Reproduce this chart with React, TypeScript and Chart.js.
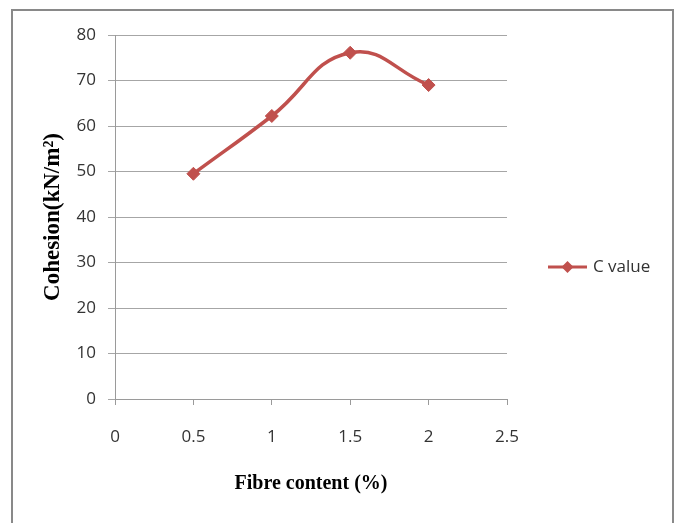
import React, { useEffect, useRef } from "react";
import { Chart, registerables } from "chart.js";

Chart.register(...registerables);

// ---- data ----
const fibreContent = [0.5, 1, 1.5, 2];
const cValues = [49.5, 62.2, 76.1, 69.0];
const xTickValues = [0, 0.5, 1, 1.5, 2, 2.5];
const yTickValues = [0, 10, 20, 30, 40, 50, 60, 70, 80];
const seriesName = "C value";
const xTitle = "Fibre content (%)";
const yTitle = "Cohesion(kN/m²)";

const LINE_COLOR = "#C0504D";
const TICK_FONT = { family: '"Open Sans", "Liberation Sans", sans-serif', size: 17 };

const overlayPlugin = {
  id: "overlay",
  afterDraw(chart: any) {
    const ctx = chart.ctx as CanvasRenderingContext2D;
    const ca = chart.chartArea;
    ctx.save();
    // x title
    ctx.fillStyle = "#000";
    ctx.font = 'bold 20px "Liberation Serif", serif';
    ctx.textAlign = "center";
    ctx.textBaseline = "alphabetic";
    ctx.fillText(xTitle, (ca.left + ca.right) / 2, 478);
    // y title
    ctx.save();
    ctx.translate(46, (ca.top + ca.bottom) / 2);
    ctx.rotate(-Math.PI / 2);
    ctx.font = 'bold 23px "Liberation Serif", serif';
    ctx.textAlign = "center";
    ctx.textBaseline = "alphabetic";
    ctx.fillText(yTitle, 0, 0);
    ctx.restore();
    // legend
    const ly = chart.height / 2;
    const lx0 = 535;
    const lx1 = 574;
    ctx.strokeStyle = LINE_COLOR;
    ctx.lineWidth = 3;
    ctx.beginPath();
    ctx.moveTo(lx0, ly);
    ctx.lineTo(lx1, ly);
    ctx.stroke();
    const cx = (lx0 + lx1) / 2;
    const r = 6;
    ctx.fillStyle = LINE_COLOR;
    ctx.beginPath();
    ctx.moveTo(cx - r, ly);
    ctx.lineTo(cx, ly - r);
    ctx.lineTo(cx + r, ly);
    ctx.lineTo(cx, ly + r);
    ctx.closePath();
    ctx.fill();
    ctx.fillStyle = "#333";
    ctx.font = `${TICK_FONT.size}px ${TICK_FONT.family}`;
    ctx.textAlign = "left";
    ctx.textBaseline = "middle";
    ctx.fillText(seriesName, 580, ly);
    ctx.restore();
  },
};

export default function App() {
  const ref = useRef<HTMLCanvasElement | null>(null);

  useEffect(() => {
    if (!ref.current) return;
    const chart = new Chart(ref.current, {
      type: "line",
      data: {
        datasets: [
          {
            label: seriesName,
            data: fibreContent.map((x, i) => ({ x, y: cValues[i] })),
            borderColor: LINE_COLOR,
            backgroundColor: LINE_COLOR,
            borderWidth: 3.5,
            pointStyle: "rectRot",
            pointRadius: 6.5,
            pointBorderWidth: 1,
            pointBackgroundColor: LINE_COLOR,
            pointBorderColor: LINE_COLOR,
            tension: 0.45,
            fill: false,
          },
        ],
      },
      options: {
        responsive: false,
        animation: false,
        layout: { padding: { left: 0, top: 24, right: 165, bottom: 0 } },
        plugins: {
          legend: { display: false },
          tooltip: { enabled: false },
        },
        scales: {
          x: {
            type: "linear",
            min: xTickValues[0],
            max: xTickValues[xTickValues.length - 1],
            afterBuildTicks: (s: any) => {
              s.ticks = xTickValues.map((v) => ({ value: v }));
            },
            afterFit: (s: any) => {
              s.height = 124;
            },
            ticks: {
              color: "#333",
              font: TICK_FONT,
              padding: 22,
              maxRotation: 0,
              autoSkip: false,
              callback: (v: any) => String(v),
            },
            grid: {
              drawOnChartArea: false,
              drawTicks: true,
              tickLength: 6,
              color: "#9a9a9a",
            },
            border: { display: true, color: "#9a9a9a", width: 1 },
          },
          y: {
            type: "linear",
            min: yTickValues[0],
            max: yTickValues[yTickValues.length - 1],
            afterBuildTicks: (s: any) => {
              s.ticks = yTickValues.map((v) => ({ value: v }));
            },
            afterFit: (s: any) => {
              s.width = 102;
            },
            ticks: {
              color: "#333",
              font: TICK_FONT,
              padding: 12,
              autoSkip: false,
              callback: (v: any) => String(v),
            },
            grid: {
              drawOnChartArea: true,
              drawTicks: true,
              tickLength: 7,
              color: "#a6a6a6",
            },
            border: { display: true, color: "#9a9a9a", width: 1 },
          },
        },
      },
      plugins: [overlayPlugin],
    });
    return () => chart.destroy();
  }, []);

  return (
    <div
      style={{
        position: "absolute",
        left: 11,
        top: 9,
        width: 659,
        height: 520,
        border: "2px solid #898989",
        overflow: "hidden",
        background: "#fff",
      }}
    >
      <canvas ref={ref} width={659} height={512} style={{ display: "block", width: 659, height: 512 }} />
    </div>
  );
}
